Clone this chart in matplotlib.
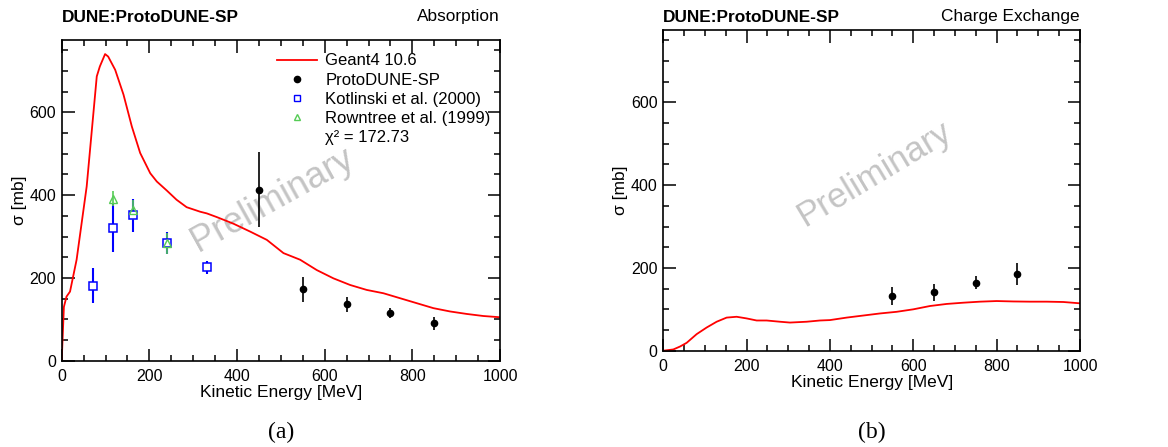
import numpy as np
import matplotlib
matplotlib.use("Agg")
import matplotlib.pyplot as plt
from matplotlib.lines import Line2D
from matplotlib.ticker import MultipleLocator

plt.rcParams['font.family'] = ['Liberation Sans', 'DejaVu Sans']

# ---- data: absorption ----
g4_abs_x = [0, 5, 11, 19, 34, 57, 80, 87, 99, 106, 122, 141, 160, 179, 202, 217, 240, 262, 285,
            316, 331, 354, 392, 430, 468, 506, 544, 582, 620, 658, 696, 734, 772, 810, 848,
            886, 924, 962, 1000]
g4_abs_y = [0, 130, 155, 167, 244, 421, 687, 711, 741, 735, 703, 643, 566, 502, 453, 433, 411, 389,
            371, 360, 356, 347, 331, 312, 292, 260, 244, 219, 199, 183, 171, 163, 151, 139, 127,
            119, 113, 108, 105]

pd_abs_x = [450, 550, 650, 750, 850]
pd_abs_y = [413, 173, 136, 115, 90]
pd_abs_err = [91, 30, 18, 12, 15]

kot_x = [71, 118, 162, 240, 331]
kot_y = [181, 320, 351, 284, 226]
kot_err = [42, 58, 39, 27, 16]

row_x = [118, 162, 240]
row_y = [391, 365, 284]
row_err = [18, 24, 25]

# ---- data: charge exchange ----
g4_cex_x = [0, 24, 40, 56, 80, 104, 128, 152, 176, 200, 224, 248, 280, 304, 344, 376, 400, 440,
            480, 520, 560, 600, 640, 680, 720, 760, 800, 840, 880, 920, 960, 1000]
g4_cex_y = [0, 3, 10, 19, 40, 56, 70, 80, 82, 78, 73, 73, 70, 68, 70, 73, 74, 80, 85, 90, 94, 100,
            108, 113, 116, 118.5, 120, 119, 118.5, 118.5, 117.7, 114.5]

pd_cex_x = [550, 650, 750, 850]
pd_cex_y = [133, 141, 164.5, 185]
pd_cex_err = [22, 20, 16, 27]

W, H = 1168, 447
fig = plt.figure(figsize=(W / 100, H / 100), dpi=100)

ax1 = fig.add_axes([61.7 / W, 1 - 360.7 / H, 438.3 / W, 320.7 / H])
ax2 = fig.add_axes([663.3 / W, 1 - 350.7 / H, 416.7 / W, 320.7 / H])


def style(ax):
    ax.set_xlim(0, 1000)
    ax.set_ylim(0, 775)
    ax.xaxis.set_major_locator(MultipleLocator(200))
    ax.xaxis.set_minor_locator(MultipleLocator(50))
    ax.yaxis.set_major_locator(MultipleLocator(200))
    ax.yaxis.set_minor_locator(MultipleLocator(50))
    ax.tick_params(which='both', direction='in', top=True, right=True, width=1.1,
                   labelsize=11.5)
    ax.tick_params(axis='x', pad=6)
    ax.tick_params(axis='y', pad=4)
    ax.tick_params(which='major', length=9)
    ax.tick_params(which='minor', length=4.5)
    for s in ax.spines.values():
        s.set_linewidth(1.2)
    ax.set_xlabel('Kinetic Energy [MeV]', fontsize=12.5, labelpad=1)
    ax.set_ylabel('σ [mb]', fontsize=12.5, labelpad=2)


style(ax1)
style(ax2)

# absorption panel
ax1.plot(g4_abs_x, g4_abs_y, color='red', lw=1.3, zorder=2)
ax1.errorbar(pd_abs_x, pd_abs_y, yerr=pd_abs_err, fmt='o', color='black', ms=4.5,
             elinewidth=1.2, capsize=0, zorder=4)
ax1.errorbar(kot_x, kot_y, yerr=kot_err, fmt='s', color='blue', mfc='white', mec='blue',
             ms=6, mew=1.1, elinewidth=1.5, capsize=0, zorder=3)
ax1.errorbar(row_x, row_y, yerr=row_err, fmt='^', color='#55cc55', mfc='none', mec='#55cc55',
             ms=6, mew=1.0, elinewidth=1.2, capsize=0, zorder=3)

handles = [
    Line2D([], [], color='red', lw=1.3),
    Line2D([], [], color='black', marker='o', ls='none', ms=4.5),
    Line2D([], [], color='blue', marker='s', mfc='white', ls='none', ms=5),
    Line2D([], [], color='#55cc55', marker='^', mfc='none', ls='none', ms=5),
    Line2D([], [], ls='none'),
]
labels = ['Geant4 10.6', 'ProtoDUNE-SP', 'Kotlinski et al. (2000)', 'Rowntree et al. (1999)',
          'χ² = 172.73']
ax1.legend(handles, labels, loc='upper left', bbox_to_anchor=(0.491, 0.958), frameon=False,
           fontsize=12, handlelength=2.4, handletextpad=0.5, labelspacing=0.25,
           borderpad=0, borderaxespad=0)

ax1.text(0.48, 0.5, 'Preliminary', transform=ax1.transAxes, fontsize=26, color='#c4c4c4',
         rotation=29, ha='center', va='center', zorder=1)

# charge exchange panel
ax2.plot(g4_cex_x, g4_cex_y, color='red', lw=1.3, zorder=2)
ax2.errorbar(pd_cex_x, pd_cex_y, yerr=pd_cex_err, fmt='o', color='black', ms=4.5,
             elinewidth=1.2, capsize=0, zorder=4)
ax2.text(0.506, 0.55, 'Preliminary', transform=ax2.transAxes, fontsize=25, color='#c4c4c4',
         rotation=31, ha='center', va='center', zorder=1)

# headers
fig.text(62 / W, 1 - 17 / H, 'DUNE:ProtoDUNE-SP', fontsize=12.4, fontweight='bold',
         ha='left', va='center')
fig.text(500 / W, 1 - 17 / H, 'Absorption', fontsize=12.4, ha='right', va='center')
fig.text(663 / W, 1 - 17 / H, 'DUNE:ProtoDUNE-SP', fontsize=12.4, fontweight='bold',
         ha='left', va='center')
fig.text(1080 / W, 1 - 17 / H, 'Charge Exchange', fontsize=12.4, ha='right', va='center')

fig.text(281 / W, 1 - 432 / H, '(a)', fontsize=17, family='Liberation Serif',
         ha='center', va='center')
fig.text(872 / W, 1 - 432 / H, '(b)', fontsize=17, family='Liberation Serif',
         ha='center', va='center')

fig.savefig('out.png', dpi=100)
